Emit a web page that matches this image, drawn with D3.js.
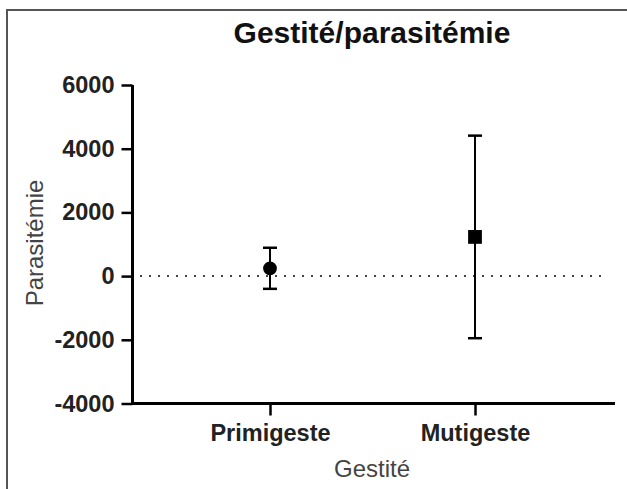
<!DOCTYPE html>
<html>
<head>
<meta charset="utf-8">
<script src="https://cdn.jsdelivr.net/npm/d3@7"></script>
<style>
  body { margin: 0; background: #fff; }
  text { font-family: "Liberation Sans", Arial, sans-serif; }
</style>
</head>
<body>
<div id="chart"></div>
<script>
var groups = ['Primigeste', 'Mutigeste'];
var means = [245, 1230];
var sds = [645, 3180];
var shapes = ['circle', 'square'];
var yTicks = [-4000, -2000, 0, 2000, 4000, 6000];

var width = 627, height = 489;

var svg = d3.select('#chart')
    .append('svg')
        .attr('width', width)
        .attr('height', height);

// frame of the cropped image
svg.append('path')
    .attr('d', 'M7,489V10H627')
    .attr('fill', 'none')
    .attr('stroke', '#555')
    .attr('stroke-width', 2);

var y = d3.scaleLinear()
    .domain([-4000, 6000])
    .range([403.5, 85]);

var x = d3.scalePoint()
    .domain(groups)
    .range([270, 475]);

// dotted zero line
svg.append('line')
    .attr('x1', 140)
    .attr('x2', 606)
    .attr('y1', y(0))
    .attr('y2', y(0))
    .attr('stroke', '#444')
    .attr('stroke-width', 2)
    .attr('stroke-dasharray', '2,7');

var yAxis = svg.append('g')
    .attr('transform', 'translate(132.5,0)')
    .call(d3.axisLeft(y).tickValues(yTicks).tickSize(11).tickPadding(7).tickFormat(d => String(d)));

var xAxis = svg.append('g')
    .attr('transform', 'translate(0,' + y(-4000) + ')')
    .call(d3.axisBottom(x).tickSize(12).tickPadding(9));

xAxis.select('.domain').attr('d', 'M131,0H615');
yAxis.select('.domain').attr('d', 'M0,' + y(-4000) + 'V' + y(6000));

[xAxis, yAxis].forEach(function(g) {
    g.select('.domain').attr('stroke', '#000').attr('stroke-width', 3);
    g.selectAll('.tick line').attr('stroke', '#000').attr('stroke-width', 2.5);
    g.selectAll('.tick text')
        .attr('fill', '#222')
        .style('font-size', '23.5px')
        .style('font-weight', 'bold')
        .style('font-family', '"Liberation Sans", Arial, sans-serif');
});

// error bars
var bars = svg.selectAll('.bar')
    .data(groups)
    .enter()
    .append('g')
    .classed('bar', true);

bars.append('line')
    .attr('x1', d => x(d))
    .attr('x2', d => x(d))
    .attr('y1', (d, i) => y(means[i] + sds[i]))
    .attr('y2', (d, i) => y(means[i] - sds[i]))
    .attr('stroke', '#000')
    .attr('stroke-width', 2);

[1, -1].forEach(function(s) {
    bars.append('line')
        .attr('x1', d => x(d) - 7)
        .attr('x2', d => x(d) + 7)
        .attr('y1', (d, i) => y(means[i] + s * sds[i]))
        .attr('y2', (d, i) => y(means[i] + s * sds[i]))
        .attr('stroke', '#000')
        .attr('stroke-width', 2.5);
});

bars.append('path')
    .attr('d', (d, i) => d3.symbol().type(shapes[i] === 'circle' ? d3.symbolCircle : d3.symbolSquare).size(shapes[i] === 'circle' ? 150 : 190)())
    .attr('transform', (d, i) => 'translate(' + x(d) + ',' + y(means[i]) + ')')
    .attr('fill', '#000');

svg.append('text')
    .attr('x', 372)
    .attr('y', 43)
    .attr('text-anchor', 'middle')
    .style('font-size', '30px')
    .style('font-weight', 'bold')
    .attr('fill', '#111')
    .text('Gestité/parasitémie');

svg.append('text')
    .attr('x', 372)
    .attr('y', 477)
    .attr('text-anchor', 'middle')
    .style('font-size', '24px')
    .attr('fill', '#444')
    .text('Gestité');

svg.append('text')
    .attr('transform', 'translate(43,243) rotate(-90)')
    .attr('text-anchor', 'middle')
    .style('font-size', '24px')
    .attr('fill', '#444')
    .text('Parasitémie');
</script>
</body>
</html>
